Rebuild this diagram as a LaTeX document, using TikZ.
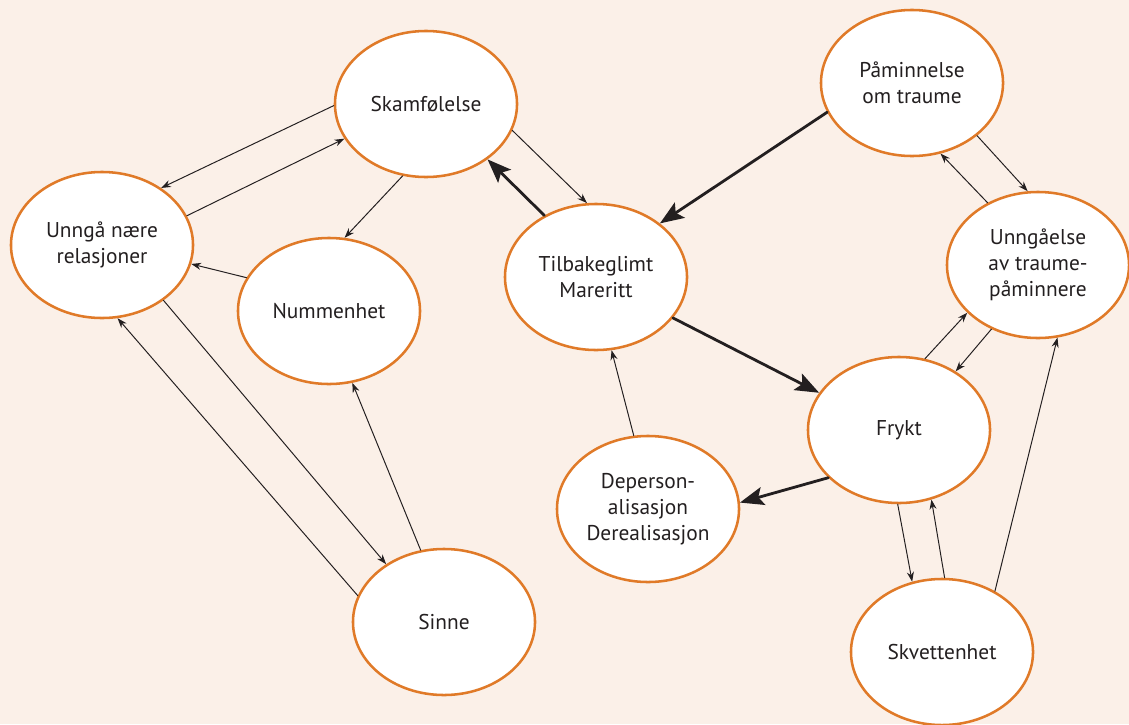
\documentclass[tikz,border=0pt]{standalone}
\usepackage{fontspec}
\setmainfont{PT Sans}
\usetikzlibrary{arrows.meta,shapes.geometric}
\definecolor{bakgrunn}{RGB}{251,240,232}
\definecolor{oransje}{RGB}{224,122,40}
\definecolor{tekst}{RGB}{35,31,32}

\begin{document}
\begin{tikzpicture}[x=0.025cm, y=-0.025cm, line join=round, line cap=round,
	tilstand/.style={ellipse, draw=oransje, line width=1.8pt, fill=white, minimum width=4.55cm, minimum height=3.65cm, inner sep=0pt, align=center, text=tekst, font=\fontsize{15.2}{18.5}\selectfont},
	tynn/.style={-{Stealth[length=7pt, width=5pt]}, line width=0.7pt, draw=tekst},
	tykk/.style={-{Stealth[length=17pt, width=13pt, inset=3.5pt]}, line width=2pt, draw=tekst}]
	% Bakgrunn
	\fill[bakgrunn] (0,0) rectangle (1129,724);
	\useasboundingbox (0,0) rectangle (1129,724);
	% Tilstander
	\node[tilstand] (skam) at (426,104) {Skamfølelse};
	\node[tilstand] (unnga) at (102,245) {Unngå nære\\relasjoner};
	\node[tilstand] (numm) at (329,311) {Nummenhet};
	\node[tilstand] (tilb) at (596,277) {Tilbakeglimt\\Mareritt};
	\node[tilstand] (pamin) at (912,83) {Påminnelse\\om traume};
	\node[tilstand] (unngaa) at (1038,265) {Unngåelse\\av traume-\\påminnere};
	\node[tilstand] (frykt) at (899,430) {Frykt};
	\node[tilstand] (deper) at (648,509) {Deperson-\\alisasjon\\Derealisasjon};
	\node[tilstand] (sinne) at (444,622) {Sinne};
	\node[tilstand] (skvet) at (942,652) {Skvettenhet};
	% Tynne piler
	\draw[tynn] (skam.181) -- (unnga.44);
	\draw[tynn] (unnga.19) -- (skam.203);
	\draw[tynn] (skam.252) -- (numm.78);
	\draw[tynn] (numm.158) -- (unnga.348);
	\draw[tynn] (unnga.318) -- (sinne.135);
	\draw[tynn] (sinne.163) -- (unnga.282);
	\draw[tynn] (sinne.108) -- (numm.288);
	\draw[tynn] (skam.343) -- (tilb.97);
	\draw[tynn] (pamin.321) -- (unngaa.98);
	\draw[tynn] (unngaa.129) -- (pamin.292);
	\draw[tynn] (frykt.70) -- (unngaa.214);
	\draw[tynn] (unngaa.234) -- (frykt.46);
	\draw[tynn] (skvet.49) -- (unngaa.285);
	\draw[tynn] (frykt.269) -- (skvet.113);
	\draw[tynn] (skvet.88) -- (frykt.295);
	\draw[tynn] (deper.101) -- (tilb.282);
	% Tykke piler
	\draw[tykk] (tilb.130) -- (skam.318);
	\draw[tykk] (pamin.199) -- (tilb.40);
	\draw[tykk] (tilb.332) -- (frykt.155);
	\draw[tykk] (frykt.214) -- (deper.4);
\end{tikzpicture}
\end{document}
